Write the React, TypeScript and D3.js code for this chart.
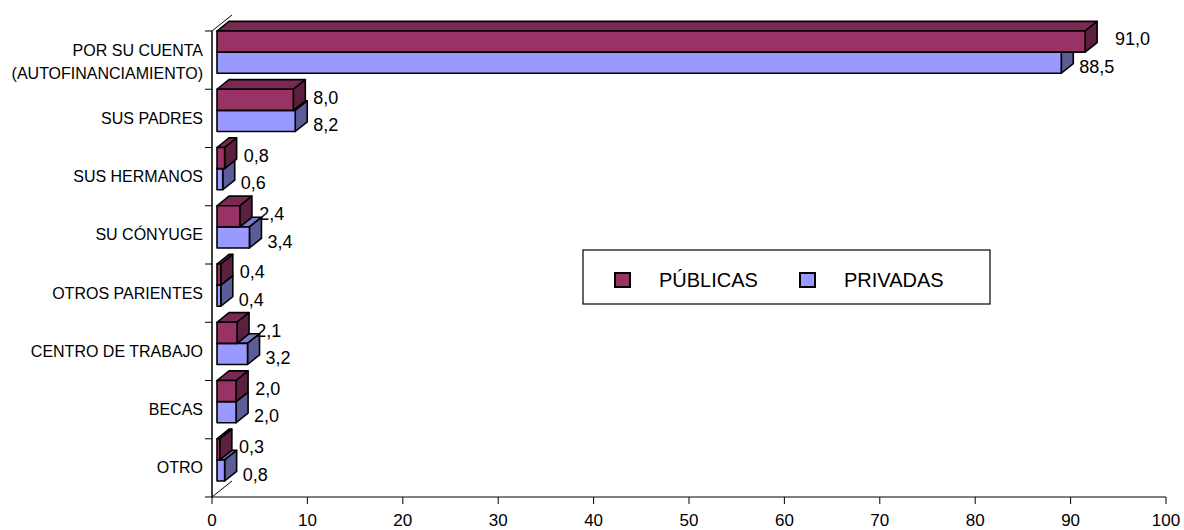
import React from "react";
import * as d3 from "d3";

const categories: string[][] = [
  ["POR SU CUENTA", "(AUTOFINANCIAMIENTO)"],
  ["SUS PADRES"],
  ["SUS HERMANOS"],
  ["SU CÓNYUGE"],
  ["OTROS PARIENTES"],
  ["CENTRO DE TRABAJO"],
  ["BECAS"],
  ["OTRO"],
];
const publicas = [91.0, 8.0, 0.8, 2.4, 0.4, 2.1, 2.0, 0.3];
const privadas = [88.5, 8.2, 0.6, 3.4, 0.4, 3.2, 2.0, 0.8];
const seriesNames = ["PÚBLICAS", "PRIVADAS"];
const xTicks = [0, 10, 20, 30, 40, 50, 60, 70, 80, 90, 100];

const W = 1184;
const H = 530;
const FONT = "Arial, 'Liberation Sans', sans-serif";
const colors = [
  { front: "#993366", top: "#7a2952", side: "#5c1f3d" },
  { front: "#9999ff", top: "#7a7acc", side: "#5c5c99" },
];

const fmt = (v: number) => v.toFixed(1).replace(".", ",");

export default function App() {
  const x = d3.scaleLinear().domain([0, 100]).range([212, 1166]);
  const keys = categories.map((_, i) => String(i));
  const y = d3.scaleBand<string>().domain(keys).range([31, 497]).padding(0);
  const bw = y.bandwidth();
  // 3D geometry
  const depth = { dx: 20, dy: -16 };
  const f0 = 0.25; // bar front depth fraction
  const f1 = 0.85; // bar back depth fraction
  const gap = 4;
  const barH = (bw - 2 * gap - 8) / 2;

  const bars: JSX.Element[] = [];
  const labels: JSX.Element[] = [];
  const series = [publicas, privadas];

  // draw bottom categories first
  for (let ci = categories.length - 1; ci >= 0; ci--) {
    const t = y(String(ci))!;
    for (let s = 1; s >= 0; s--) {
      const v = series[s][ci];
      const ox = depth.dx * f0;
      const oy = depth.dy * f0;
      const bx = depth.dx * (f1 - f0);
      const by = depth.dy * (f1 - f0);
      const x0 = x(0) + ox;
      const x1 = x(v) + ox;
      const y0 = t + gap + oy + s * barH;
      const y1 = y0 + barH;
      const c = colors[s];
      const common = {
        stroke: "#000",
        strokeWidth: 1.6,
        strokeLinejoin: "round" as const,
      };
      bars.push(
        <g key={`b-${ci}-${s}`}>
          <polygon
            points={`${x0},${y0} ${x1},${y0} ${x1 + bx},${y0 + by} ${x0 + bx},${y0 + by}`}
            fill={c.top}
            {...common}
          />
          <polygon
            points={`${x1},${y0} ${x1 + bx},${y0 + by} ${x1 + bx},${y1 + by} ${x1},${y1}`}
            fill={c.side}
            {...common}
          />
          <rect x={x0} y={y0} width={x1 - x0} height={y1 - y0} fill={c.front} {...common} />
        </g>
      );
      const lx = x1 + (s === 0 ? 19 + 0.12 * v : 18);
      const ly = t + (s === 0 ? 8 : 35.5);
      labels.push(
        <text
          key={`l-${ci}-${s}`}
          x={lx}
          y={ly}
          dy="0.35em"
          fontSize={18}
          fontFamily={FONT}
          fill="#000"
        >
          {fmt(v)}
        </text>
      );
    }
  }

  const yTickPos = [...keys.map((k) => y(k)!), 497];

  return (
    <svg
      width={W}
      height={H}
      style={{ position: "absolute", left: 0, top: 0, background: "#fff" }}
    >
      <rect x={0} y={0} width={W} height={H} fill="#fff" />
      {/* wall outline */}
      <line x1={x(0)} y1={31} x2={x(0) + depth.dx} y2={31 + depth.dy} stroke="#000" strokeWidth={1} />
      <line x1={x(0)} y1={497} x2={x(0) + depth.dx} y2={497 + depth.dy} stroke="#000" strokeWidth={1} />
      {/* bars */}
      {bars}
      {/* axes */}
      <line x1={x(0)} y1={31} x2={x(0)} y2={497} stroke="#000" strokeWidth={1.5} />
      <line x1={x(0)} y1={497} x2={x(100)} y2={497} stroke="#000" strokeWidth={1} />
      {yTickPos.map((p, i) => (
        <line key={`yt-${i}`} x1={x(0) - 7} y1={p} x2={x(0)} y2={p} stroke="#000" strokeWidth={1} />
      ))}
      {xTicks.map((v) => (
        <g key={`xt-${v}`}>
          <line x1={x(v)} y1={497} x2={x(v)} y2={504} stroke="#000" strokeWidth={1} />
          <text x={x(v)} y={526} textAnchor="middle" fontSize={17} fontFamily={FONT} fill="#000">
            {v}
          </text>
        </g>
      ))}
      {categories.map((lines, i) => {
        const cy = y(String(i))! + bw / 2 + (lines.length > 1 ? 1.5 : 0);
        const lh = 23;
        return (
          <text
            key={`c-${i}`}
            x={203}
            textAnchor="end"
            fontSize={16}
            fontFamily={FONT}
            fill="#000"
          >
            {lines.map((ln, j) => (
              <tspan key={j} x={203} y={cy + (j - (lines.length - 1) / 2) * lh} dy="0.35em">
                {ln}
              </tspan>
            ))}
          </text>
        );
      })}
      {labels}
      {/* legend */}
      <rect x={583} y={250} width={407} height={54} fill="#fff" stroke="#000" strokeWidth={1.2} />
      {seriesNames.map((n, i) => {
        const sx = i === 0 ? 615 : 800;
        return (
          <g key={`lg-${i}`}>
            <rect x={sx} y={273} width={15} height={14} fill={colors[i].front} stroke="#000" strokeWidth={2} />
            <text x={sx + 44} y={287} fontSize={20} fontFamily={FONT} fill="#000">
              {n}
            </text>
          </g>
        );
      })}
    </svg>
  );
}
